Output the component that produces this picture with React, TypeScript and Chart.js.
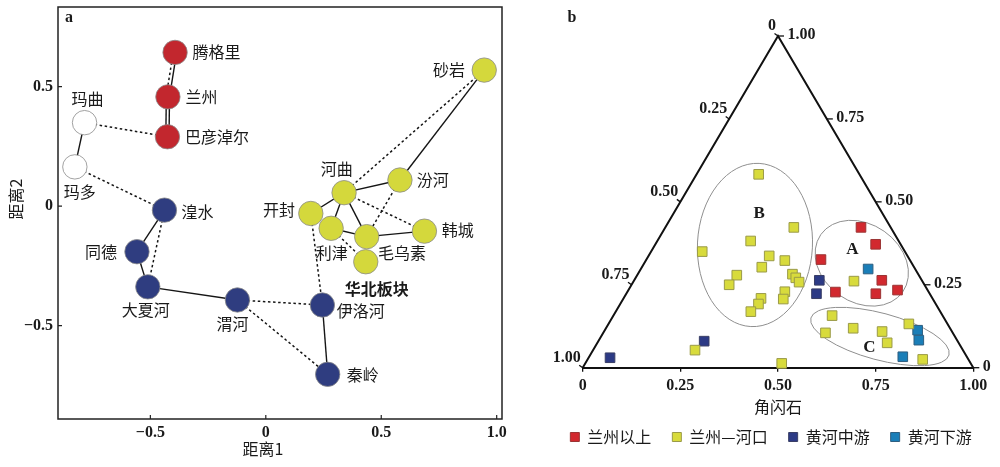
import React, { useEffect, useRef } from "react";
import { Chart, registerables } from "chart.js";

Chart.register(...registerables);

const CJK = '"Noto Sans CJK SC", "Noto Sans", sans-serif';
const SERIF = '"Liberation Serif", "DejaVu Serif", serif';

// ---------------- Panel a : MDS network ----------------
const nodeNames = ["腾格里", "兰州", "巴彦淖尔", "玛曲", "玛多", "湟水", "同德", "大夏河", "渭河", "伊洛河", "秦岭", "砂岩", "河曲", "汾河", "开封", "韩城", "利津", "毛乌素", "华北板块"];
const nodeDist1 = [-0.393, -0.424, -0.426, -0.785, -0.827, -0.439, -0.558, -0.511, -0.123, 0.245, 0.268, 0.946, 0.339, 0.581, 0.195, 0.687, 0.283, 0.437, 0.433];
const nodeDist2 = [0.643, 0.457, 0.29, 0.349, 0.164, -0.017, -0.191, -0.338, -0.393, -0.414, -0.704, 0.569, 0.056, 0.109, -0.031, -0.105, -0.093, -0.128, -0.233];
const nodeGroup = ["upper", "upper", "upper", "source", "source", "middle", "middle", "middle", "middle", "middle", "middle", "plate", "plate", "plate", "plate", "plate", "plate", "plate", "plate"];

const solidLinks = [["腾格里", "兰州"], ["兰州", "巴彦淖尔"], ["玛曲", "玛多"], ["湟水", "同德"], ["同德", "大夏河"], ["大夏河", "渭河"], ["伊洛河", "秦岭"], ["砂岩", "汾河"], ["河曲", "汾河"], ["河曲", "开封"], ["河曲", "利津"], ["河曲", "毛乌素"], ["利津", "毛乌素"], ["毛乌素", "韩城"]];
const dashedLinks = [["腾格里", "兰州"], ["玛曲", "巴彦淖尔"], ["玛多", "湟水"], ["湟水", "大夏河"], ["渭河", "伊洛河"], ["渭河", "秦岭"], ["开封", "伊洛河"], ["砂岩", "河曲"], ["河曲", "韩城"], ["汾河", "毛乌素"], ["利津", "华北板块"]];

const dist1TickValues = [-0.5, 0, 0.5, 1.0];
const dist1TickLabels = ["−0.5", "0", "0.5", "1.0"];
const dist2TickValues = [-0.5, 0, 0.5];
const dist2TickLabels = ["−0.5", "0", "0.5"];

// ---------------- Panel b : ternary ----------------
const seriesNames = ["兰州以上", "兰州—河口", "黄河中游", "黄河下游"];
const upperHb = [0.501, 0.564, 0.447, 0.634, 0.533, 0.639, 0.689];
const upperEp = [0.423, 0.372, 0.326, 0.2635, 0.228, 0.223, 0.234];
const hekouHb = [0.159, 0.329, 0.131, 0.239, 0.309, 0.356, 0.307, 0.255, 0.25, 0.396, 0.41, 0.425, 0.403, 0.41, 0.352, 0.354, 0.346, 0.564, 0.56, 0.633, 0.569, 0.712, 0.742, 0.769, 0.858, 0.503, 0.261];
const hekouEp = [0.583, 0.423, 0.35, 0.382, 0.337, 0.323, 0.303, 0.279, 0.25, 0.282, 0.271, 0.258, 0.229, 0.207, 0.209, 0.192, 0.169, 0.261, 0.157, 0.119, 0.105, 0.109, 0.075, 0.132, 0.025, 0.013, 0.053];
const middleHb = [0.474, 0.487, 0.271, 0.055];
const middleEp = [0.2635, 0.223, 0.08, 0.03];
const lowerHb = [0.582, 0.801, 0.819, 0.803];
const lowerEp = [0.2975, 0.113, 0.083, 0.033];

const hbTickValues = [0, 0.25, 0.5, 0.75, 1];
const hbTickLabels = ["0", "0.25", "0.50", "0.75", "1.00"];
const grtTickValues = [0, 0.25, 0.5, 0.75, 1];
const grtTickLabels = ["0", "0.25", "0.50", "0.75", "1.00"];
const epTickValues = [0, 0.25, 0.5, 0.75, 1];
const epTickLabels = ["0", "0.25", "0.50", "0.75", "1.00"];

// ---------------- drawing styles / annotations ----------------
const groupColors: Record<string, string> = { upper: "#C2272E", source: "#FFFFFF", middle: "#2F3D80", plate: "#D4D83C" };
const seriesColors = ["#D2292F", "#D8DB3C", "#2C3A85", "#1A7EB8"];
const seriesBorders = ["#9B3434", "#9A9A48", "#3A3F66", "#2F5F80"];
const linkShift: Record<string, number[]> = { "s:腾格里|兰州": [1.6], "s:兰州|巴彦淖尔": [-1.6, 1.6], "d:腾格里|兰州": [-1.8] };
const nodeLabelPlacement: Record<string, [number, number, string]> = {
  "腾格里": [17.5, 0, "left"], "兰州": [17.5, 0, "left"], "巴彦淖尔": [17.5, 0, "left"],
  "玛曲": [3, -23.5, "center"], "玛多": [5, 25, "center"], "湟水": [17, 2, "left"],
  "同德": [-20, 0, "right"], "大夏河": [-2, 23.5, "center"], "渭河": [-5, 24, "center"],
  "伊洛河": [14.5, 5.5, "left"], "秦岭": [19, 0.7, "left"], "华北板块": [11, 27.6, "center"],
  "毛乌素": [11.3, 16.6, "left"], "利津": [0.7, 25, "center"], "韩城": [17.4, -1.7, "left"],
  "开封": [-15.7, -3.3, "right"], "河曲": [-7.3, -23.4, "center"], "汾河": [16.7, 0, "left"], "砂岩": [-19.3, 0, "right"],
};
const clusterEllipses = [
  { name: "A", hb: 0.557, ep: 0.315, rx: 50, ry: 39, rot: 35, lhb: 0.512, lep: 0.357 },
  { name: "B", hb: 0.256, ep: 0.37, rx: 57.5, ry: 81.7, rot: 2.9, lhb: 0.219, lep: 0.4655 },
  { name: "C", hb: 0.714, ep: 0.094, rx: 71.5, ry: 23.4, rot: 15, lhb: 0.703, lep: 0.0615 },
];

function LeftPanel() {
  const ref = useRef<HTMLCanvasElement>(null);
  useEffect(() => {
    const groups = ["upper", "source", "middle", "plate"];
    const datasets = groups.map((g) => ({
      label: g,
      data: nodeNames
        .map((n, i) => (nodeGroup[i] === g ? { x: nodeDist1[i], y: nodeDist2[i] } : null))
        .filter((p) => p !== null),
      backgroundColor: groupColors[g],
      borderColor: "#8a8a8a",
      borderWidth: 0.8,
      pointRadius: 12.2,
      pointHoverRadius: 12.2,
      clip: false,
    }));
    const deco = {
      id: "leftDeco",
      beforeDatasetsDraw(chart: any) {
        const { ctx } = chart;
        const xs = chart.scales.x, ys = chart.scales.y;
        const pos = (name: string) => {
          const i = nodeNames.indexOf(name);
          return [xs.getPixelForValue(nodeDist1[i]), ys.getPixelForValue(nodeDist2[i])];
        };
        ctx.save();
        ctx.strokeStyle = "#151515";
        const drawSet = (links: string[][], dashed: boolean) => {
          for (const [a, b] of links) {
            const [x1, y1] = pos(a);
            const [x2, y2] = pos(b);
            const shifts = linkShift[(dashed ? "d:" : "s:") + a + "|" + b] || [0];
            for (const s of shifts) {
              ctx.beginPath();
              ctx.lineWidth = dashed ? 1.5 : 1.4;
              ctx.setLineDash(dashed ? [2.5, 2.6] : []);
              ctx.moveTo(x1 + s, y1);
              ctx.lineTo(x2 + s, y2);
              ctx.stroke();
            }
          }
        };
        drawSet(solidLinks, false);
        drawSet(dashedLinks, true);
        ctx.restore();
      },
      afterDatasetsDraw(chart: any) {
        const { ctx } = chart;
        const xs = chart.scales.x, ys = chart.scales.y;
        ctx.save();
        ctx.fillStyle = "#1a1a1a";
        ctx.textBaseline = "middle";
        nodeNames.forEach((n, i) => {
          const [dx, dy, align] = nodeLabelPlacement[n];
          ctx.font = (n === "华北板块" ? "bold " : "") + "16px " + CJK;
          ctx.textAlign = align;
          ctx.fillText(n, xs.getPixelForValue(nodeDist1[i]) + dx, ys.getPixelForValue(nodeDist2[i]) + dy);
        });
        ctx.restore();
      },
      afterDraw(chart: any) {
        const { ctx, chartArea: ca } = chart;
        const xs = chart.scales.x, ys = chart.scales.y;
        ctx.save();
        ctx.strokeStyle = "#222";
        ctx.lineWidth = 1.5;
        ctx.strokeRect(ca.left, ca.top, ca.right - ca.left, ca.bottom - ca.top);
        ctx.lineWidth = 1.2;
        ctx.beginPath();
        for (const v of dist1TickValues) {
          const px = xs.getPixelForValue(v);
          ctx.moveTo(px, ca.bottom);
          ctx.lineTo(px, ca.bottom - 4);
        }
        for (const v of dist2TickValues) {
          const py = ys.getPixelForValue(v);
          ctx.moveTo(ca.left, py);
          ctx.lineTo(ca.left + 4, py);
        }
        ctx.stroke();
        ctx.fillStyle = "#1a1a1a";
        ctx.font = "16px " + CJK;
        ctx.textAlign = "center";
        ctx.textBaseline = "middle";
        ctx.fillText("距离1", 263, 449);
        ctx.save();
        ctx.translate(16, 199);
        ctx.rotate(-Math.PI / 2);
        ctx.fillText("距离2", 0, 0);
        ctx.restore();
        ctx.font = "bold 16px " + SERIF;
        ctx.fillText("a", 69, 18);
        ctx.restore();
      },
    };
    const chart = new Chart(ref.current as HTMLCanvasElement, {
      type: "scatter",
      data: { datasets: datasets as any },
      options: {
        animation: false,
        responsive: false,
        devicePixelRatio: 1,
        events: [],
        layout: { autoPadding: false, padding: { left: 0, top: 7, right: 38, bottom: 0 } },
        plugins: { legend: { display: false }, tooltip: { enabled: false } },
        scales: {
          x: {
            type: "linear",
            min: -0.9,
            max: 1.023,
            afterBuildTicks: (s: any) => { s.ticks = dist1TickValues.map((v) => ({ value: v })); },
            afterFit: (s: any) => { s.height = 48; s.paddingLeft = 0; s.paddingRight = 0; },
            ticks: {
              callback: (_v: any, i: number) => dist1TickLabels[i],
              font: { family: SERIF, size: 16, weight: "bold" },
              color: "#1a1a1a",
              padding: 4,
              maxRotation: 0,
              autoSkip: false,
            },
            grid: { display: false, drawTicks: false },
            border: { display: false },
          },
          y: {
            type: "linear",
            min: -0.891,
            max: 0.833,
            afterBuildTicks: (s: any) => { s.ticks = dist2TickValues.map((v) => ({ value: v })); },
            afterFit: (s: any) => { s.width = 58; s.paddingTop = 0; s.paddingBottom = 0; },
            ticks: {
              callback: (_v: any, i: number) => dist2TickLabels[i],
              font: { family: SERIF, size: 16, weight: "bold" },
              color: "#1a1a1a",
              padding: 5,
              autoSkip: false,
            },
            grid: { display: false, drawTicks: false },
            border: { display: false },
          },
        },
      } as any,
      plugins: [deco],
    });
    return () => chart.destroy();
  }, []);
  return <canvas ref={ref} width={540} height={467} style={{ position: "absolute", left: 0, top: 0, width: 540, height: 467 }} />;
}

function RightPanel() {
  const ref = useRef<HTMLCanvasElement>(null);
  useEffect(() => {
    const series = [
      [upperHb, upperEp],
      [hekouHb, hekouEp],
      [middleHb, middleEp],
      [lowerHb, lowerEp],
    ];
    const datasets = series.map(([hb, ep], k) => ({
      label: seriesNames[k],
      data: hb.map((h, i) => ({ x: h + 0.5 * ep[i], y: ep[i] })),
      backgroundColor: seriesColors[k],
      borderColor: seriesBorders[k],
      borderWidth: 1,
      pointStyle: "rect",
      pointRadius: 6.8,
      pointHoverRadius: 6.8,
      clip: false,
    }));
    const ternary = {
      id: "ternaryDeco",
      beforeDatasetsDraw(chart: any) {
        const { ctx } = chart;
        const xs = chart.scales.x, ys = chart.scales.y;
        const P = (h: number, e: number) => [xs.getPixelForValue(h + 0.5 * e), ys.getPixelForValue(e)];
        ctx.save();
        // cluster ellipses
        ctx.strokeStyle = "#8f8f8f";
        ctx.lineWidth = 1;
        for (const el of clusterEllipses) {
          const [cx, cy] = P(el.hb, el.ep);
          ctx.beginPath();
          ctx.ellipse(cx, cy, el.rx, el.ry, (el.rot * Math.PI) / 180, 0, Math.PI * 2);
          ctx.stroke();
        }
        ctx.fillStyle = "#1a1a1a";
        ctx.font = "bold 17px " + SERIF;
        ctx.textAlign = "center";
        ctx.textBaseline = "middle";
        for (const el of clusterEllipses) {
          const [lx, ly] = P(el.lhb, el.lep);
          ctx.fillText(el.name, lx, ly);
        }
        // triangle sides
        const bl = P(0, 0), br = P(1, 0), top = P(0, 1);
        ctx.strokeStyle = "#111";
        ctx.lineWidth = 2;
        ctx.beginPath();
        ctx.moveTo(bl[0], bl[1]);
        ctx.lineTo(top[0], top[1]);
        ctx.lineTo(br[0], br[1]);
        ctx.stroke();
        // left axis (石榴子石): 0 at top, 1 at bottom-left
        ctx.lineWidth = 1.3;
        ctx.font = "bold 16px " + SERIF;
        ctx.textAlign = "right";
        grtTickValues.forEach((g, i) => {
          const [px, py] = P(0, 1 - g);
          ctx.beginPath();
          ctx.moveTo(px, py);
          ctx.lineTo(px - 3.5, py - 2.5);
          ctx.stroke();
          ctx.fillText(grtTickLabels[i], px - 2, py - 10);
        });
        // right axis (绿帘石): 0 at bottom-right, 1 at top
        ctx.textAlign = "left";
        epTickValues.forEach((e, i) => {
          const [px, py] = P(1 - e, e);
          ctx.beginPath();
          ctx.moveTo(px, py);
          ctx.lineTo(px + 6, py);
          ctx.stroke();
          ctx.fillText(epTickLabels[i], px + 9.5, py - 1);
        });
        // axis titles
        ctx.font = "16px " + CJK;
        ctx.textAlign = "center";
        ctx.save();
        ctx.translate(629, 181);
        ctx.rotate((-58 * Math.PI) / 180);
        ctx.fillText("石榴子石", 0, 0);
        ctx.restore();
        ctx.save();
        ctx.translate(931, 172);
        ctx.rotate((62 * Math.PI) / 180);
        ctx.fillText("绿帘石", 0, 0);
        ctx.restore();
        ctx.font = "bold 16px " + SERIF;
        ctx.fillText("b", 572 - 542, 18);
        ctx.restore();
      },
    };
    const hidden = { display: true, ticks: { display: false }, grid: { display: false }, border: { display: false }, min: 0, max: 1 };
    const chart = new Chart(ref.current as HTMLCanvasElement, {
      type: "scatter",
      data: { datasets: datasets as any },
      options: {
        animation: false,
        responsive: false,
        devicePixelRatio: 1,
        events: [],
        layout: { autoPadding: false, padding: { left: 0, top: 36, right: 0, bottom: 19 } },
        plugins: {
          tooltip: { enabled: false },
          legend: {
            display: true,
            position: "bottom",
            align: "center",
            maxHeight: 40,
            labels: {
              font: { family: CJK, size: 16 },
              color: "#1a1a1a",
              boxWidth: 9,
              boxHeight: 9,
              padding: 21,
            },
          },
        },
        scales: {
          x: {
            type: "linear",
            min: 0,
            max: 1,
            afterBuildTicks: (s: any) => { s.ticks = hbTickValues.map((v) => ({ value: v })); },
            afterFit: (s: any) => { s.height = 40.3; s.paddingLeft = 0; s.paddingRight = 0; },
            ticks: {
              callback: (_v: any, i: number) => hbTickLabels[i],
              font: { family: SERIF, size: 16, weight: "bold" },
              color: "#1a1a1a",
              padding: 5,
              maxRotation: 0,
              autoSkip: false,
            },
            grid: { display: true, drawOnChartArea: false, drawTicks: true, tickLength: 4, color: "#111", lineWidth: 1.3 },
            border: { display: true, color: "#111", width: 2 },
            title: { display: true, text: "角闪石", font: { family: CJK, size: 16, lineHeight: 1 }, color: "#1a1a1a", padding: { top: 0, bottom: -7 } },
          },
          y: { ...hidden, type: "linear", position: "left", afterFit: (s: any) => { s.width = 40.7; s.paddingTop = 0; s.paddingBottom = 0; } },
          y2: { ...hidden, type: "linear", position: "right", afterFit: (s: any) => { s.width = 26.7; s.paddingTop = 0; s.paddingBottom = 0; } },
        },
      } as any,
      plugins: [ternary],
    });
    return () => chart.destroy();
  }, []);
  return <canvas ref={ref} width={458} height={467} style={{ position: "absolute", left: 542, top: 0, width: 458, height: 467 }} />;
}

export default function App() {
  return (
    <div style={{ position: "fixed", left: 0, top: 0, width: 1000, height: 467, background: "#fff", overflow: "hidden" }}>
      <LeftPanel />
      <RightPanel />
    </div>
  );
}
